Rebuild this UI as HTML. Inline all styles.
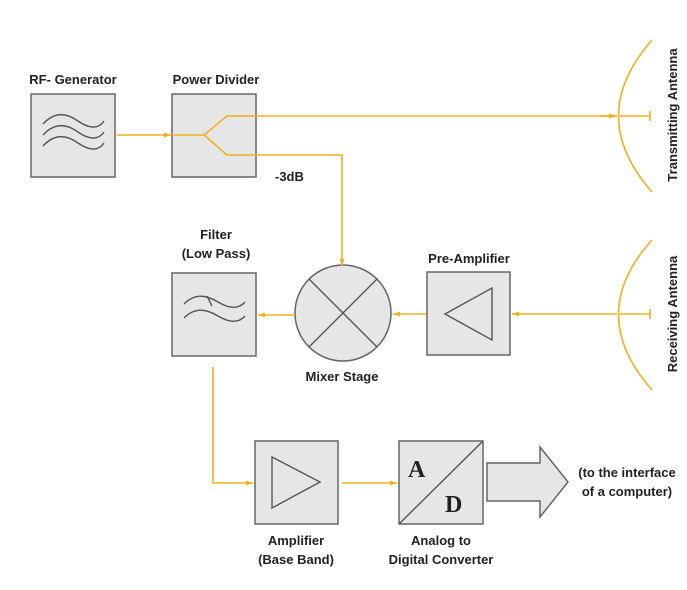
<!DOCTYPE html>
<html><head><meta charset="utf-8"><style>
body{margin:0;background:#fff}
svg{display:block}
text{font-family:"Liberation Sans",sans-serif;font-weight:bold;font-size:13px;fill:#222}
</style></head><body>
<svg width="687" height="590" viewBox="0 0 687 590">
<defs>
<marker id="a" markerWidth="8" markerHeight="8" refX="7" refY="4" orient="auto" markerUnits="userSpaceOnUse">
<path d="M0,1.5 L7,4 L0,6.5 Z" fill="#f0b020"/></marker>
</defs>
<g fill="#e6e6e6" stroke="#666" stroke-width="1.5">
<rect x="31" y="94" width="84" height="83"/>
<rect x="172" y="94" width="84" height="83"/>
<rect x="172" y="273" width="84" height="83"/>
<rect x="427" y="272" width="83" height="83"/>
<rect x="255" y="441" width="83" height="83"/>
<rect x="399" y="441" width="84" height="83"/>
<circle cx="343" cy="313" r="48"/>
<path d="M487,463 L540,463 L540,447 L568,482 L540,517 L540,501 L487,501 Z"/>
</g>
<g fill="none" stroke="#555" stroke-width="1.4">
<path d="M43,124 C56,110 68,114 78,121 C88,128 98,130 104,121"/>
<path d="M43,135 C56,121 68,125 78,132 C88,139 98,141 104,132"/>
<path d="M43,146 C56,132 68,136 78,143 C88,150 98,152 104,143"/>
<path d="M184,304 C196,292 208,296 218,302 C228,308 238,310 245,302"/>
<path d="M184,318 C196,306 208,310 218,316 C228,322 238,324 245,316"/>
<path d="M207,296 L212,306"/>
<path d="M309,279 L377,347 M377,279 L309,347"/>
<path d="M445,314 L492,288 L492,340 Z"/>
<path d="M272,457 L320,482 L272,508 Z"/>
<path d="M399,524 L483,441"/>
</g>
<g fill="none" stroke="#f0b020" stroke-width="1.6">
<path d="M117,135 L171,135" marker-end="url(#a)"/>
<path d="M172,135 L204,135 L227,116 L617,116" />
<path d="M204,135 L227,155 L342,155 L342,266" marker-end="url(#a)"/>
<path d="M295,315 L258,315" marker-end="url(#a)"/>
<path d="M426,314 L393,314" marker-end="url(#a)"/>
<path d="M617,314 L512,314" marker-end="url(#a)"/>
<path d="M213,367 L213,483 L253,483" marker-end="url(#a)"/>
<path d="M342,483 L397,483" marker-end="url(#a)"/>
<path d="M600,116 L616,116" marker-end="url(#a)"/>
<path d="M652,40 Q585,116 652,192"/>
<path d="M652,240 Q585,314 652,390"/>
<path d="M620,116 L650,116 M650,111 L650,121"/>
<path d="M620,314 L650,314 M650,309 L650,319"/>
</g>
<text x="73" y="84" text-anchor="middle">RF- Generator</text>
<text x="216" y="84" text-anchor="middle">Power Divider</text>
<text x="275" y="181">-3dB</text>
<text x="216" y="239" text-anchor="middle">Filter</text>
<text x="216" y="258" text-anchor="middle">(Low Pass)</text>
<text x="469" y="263" text-anchor="middle">Pre-Amplifier</text>
<text x="342" y="381" text-anchor="middle">Mixer Stage</text>
<text x="296" y="545" text-anchor="middle">Amplifier</text>
<text x="296" y="564" text-anchor="middle">(Base Band)</text>
<text x="441" y="545" text-anchor="middle">Analog to</text>
<text x="441" y="564" text-anchor="middle">Digital Converter</text>
<text x="627" y="477" text-anchor="middle">(to the interface</text>
<text x="627" y="496" text-anchor="middle">of a computer)</text>
<text x="0" y="0" text-anchor="middle" transform="translate(677,115) rotate(-90)">Transmitting Antenna</text>
<text x="0" y="0" text-anchor="middle" transform="translate(677,314) rotate(-90)">Receiving Antenna</text>
<text x="408" y="477" style="font-family:'Liberation Serif',serif;font-size:24px">A</text>
<text x="445" y="512" style="font-family:'Liberation Serif',serif;font-size:24px">D</text>
</svg>
</body></html>
